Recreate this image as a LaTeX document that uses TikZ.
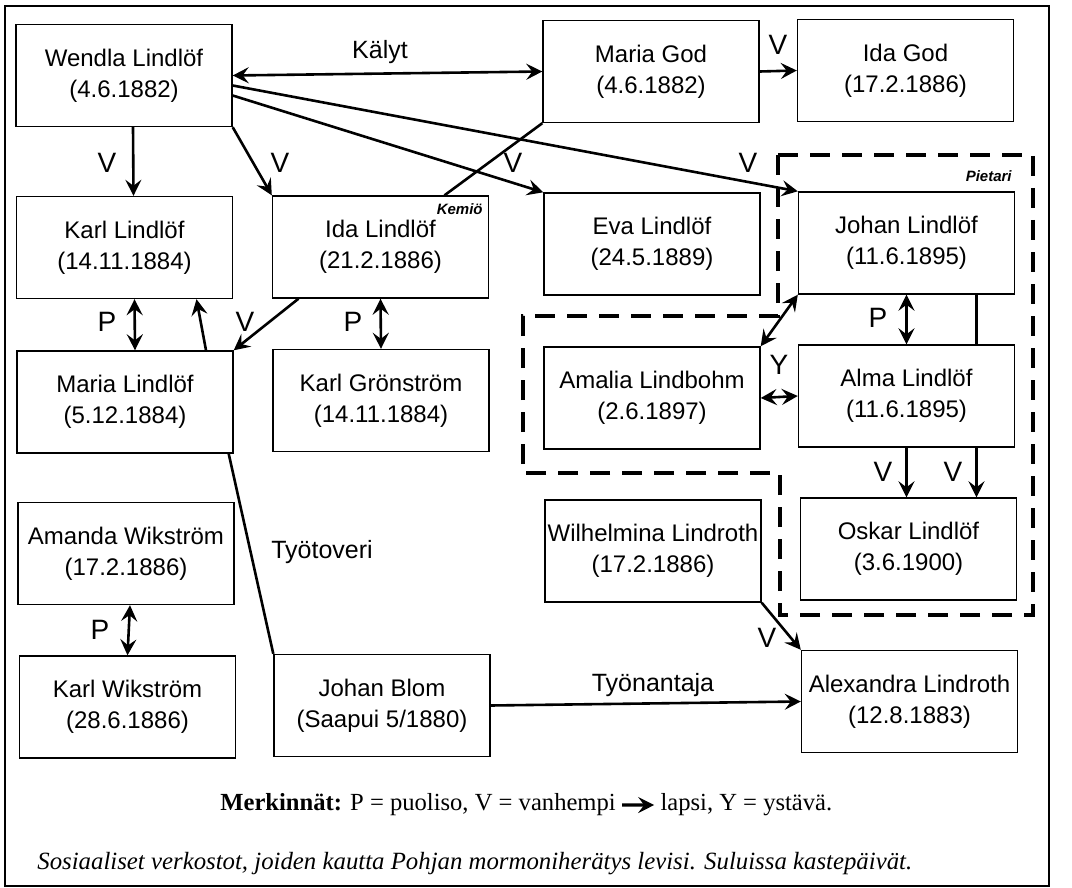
\documentclass[tikz,border=0pt]{standalone}
\usepackage{fontspec}
\setmainfont{Liberation Sans}
\newfontfamily\notefont{Liberation Serif}
\usetikzlibrary{arrows.meta}

\begin{document}
\begin{tikzpicture}[x=0.5pt,y=-0.5pt,>={Stealth[length=8pt,width=8pt,inset=3pt]}]
\tikzstyle{person}=[draw,line width=0.7pt,minimum width=108pt,minimum height=51pt,inner sep=0pt,align=center,font=\fontsize{12}{15.5}\selectfont]
\tikzstyle{arr}=[line width=1.3pt,->]
\tikzstyle{pair}=[line width=1.3pt,<->]
\tikzstyle{tie}=[line width=1.3pt]
\tikzstyle{rel}=[font=\fontsize{14}{14}\selectfont,inner sep=0pt]
\tikzstyle{lab}=[font=\fontsize{12.5}{12.5}\selectfont,inner sep=0pt]
\tikzstyle{place}=[font=\fontsize{7.5}{7.5}\selectfont\bfseries\itshape,inner sep=0pt,anchor=east]
\useasboundingbox (0,0) rectangle (1072,888);
\draw[line width=0.7pt] (5,6) rectangle (1049,886);
\draw[line width=2.4pt,dash pattern=on 10pt off 6pt] (778,155) -- (1033,155) -- (1033,615) -- (780,615) -- (780,473) -- (523,473) -- (523,316) -- (778,316) -- cycle;

\node[person] (wendla) at (124,75.5) {Wendla Lindlöf\\(4.6.1882)};
\node[person] (mariagod) at (651,71.5) {Maria God\\(4.6.1882)};
\node[person] (idagod) at (905.5,70.5) {Ida God\\(17.2.1886)};
\node[person] (karl) at (124.5,247.5) {Karl Lindlöf\\(14.11.1884)};
\node[person] (ida) at (380.5,247) {Ida Lindlöf\\(21.2.1886)};
\node[person] (eva) at (652,244) {Eva Lindlöf\\(24.5.1889)};
\node[person] (johan) at (906.5,243) {Johan Lindlöf\\(11.6.1895)};
\node[person] (marial) at (125,402) {Maria Lindlöf\\(5.12.1884)};
\node[person] (gronstrom) at (381,400.5) {Karl Grönström\\(14.11.1884)};
\node[person] (amalia) at (652,398) {Amalia Lindbohm\\(2.6.1897)};
\node[person] (alma) at (906.5,396) {Alma Lindlöf\\(11.6.1895)};
\node[person] (amanda) at (126,553.5) {Amanda Wikström\\(17.2.1886)};
\node[person] (wilhelmina) at (653,551) {Wilhelmina Lindroth\\(17.2.1886)};
\node[person] (oskar) at (908.5,549) {Oskar Lindlöf\\(3.6.1900)};
\node[person] (karlw) at (127.5,707) {Karl Wikström\\(28.6.1886)};
\node[person] (blom) at (382,705.5) {Johan Blom\\(Saapui 5/1880)};
\node[person] (alexandra) at (909.5,701.5) {Alexandra Lindroth\\(12.8.1883)};

\node[place] (kemio) at (483,209) {Kemiö};
\node[place] (pietari) at (1012,176) {Pietari};

\draw[pair] (wendla.east) -- (mariagod.west);
\node[lab] (kalyt) at (380,52) {Kälyt};
\draw[arr] (mariagod.east) -- (idagod.west);
\node[rel] (vidagod) at (778,45) {V};
\draw[arr] ([xshift=4.5pt]wendla.south) -- ([xshift=4.5pt]karl.north);
\node[rel] (vkarl) at (107,163) {V};
\draw[arr] (wendla.south east) -- (ida.north west);
\node[rel] (vida) at (280,163) {V};
\draw[arr] ([yshift=-10pt]wendla.east) -- (eva.north west);
\node[rel] (veva) at (513,163) {V};
\draw[arr] ([yshift=-5pt]wendla.east) -- (johan.north west);
\node[rel] (vjohan) at (748,163) {V};
\draw[tie] (mariagod.south west) -- ([xshift=32pt]ida.north);

\draw[pair] ([xshift=5pt]karl.south) -- ([xshift=5pt]marial.north);
\node[rel] (pkarl) at (107,322) {P};
\draw[arr] ([xshift=40.5pt]marial.north) -- ([xshift=36pt]karl.south);
\draw[arr] ([xshift=-41pt]ida.south) -- (marial.north east);
\node[rel] (vmarial) at (245,322) {V};
\draw[pair] (ida.south) -- (gronstrom.north);
\node[rel] (pida) at (353,322) {P};

\draw[pair] (johan.south) -- (alma.north);
\node[rel] (pjohan) at (878,318) {P};
\draw[tie] ([xshift=35pt]johan.south) -- ([xshift=35pt]alma.north);
\draw[pair] (johan.south west) -- (amalia.north east);
\draw[pair] (amalia.east) -- (alma.west);
\node[rel] (yalma) at (779,365) {Y};
\draw[arr] (alma.south) -- ([xshift=-1pt]oskar.north);
\node[rel] (voskar) at (883,472) {V};
\draw[arr] ([xshift=35pt]alma.south) -- ([xshift=34pt]oskar.north);
\node[rel] (voskarb) at (953,472) {V};

\draw[tie] ([xshift=-2.5pt]marial.south east) -- (blom.north west);
\node[lab] (tyotoveri) at (322,552) {Työtoveri};
\draw[pair] ([xshift=2pt]amanda.south) -- (karlw.north);
\node[rel] (pamanda) at (100,630) {P};
\draw[arr] (blom.east) -- (alexandra.west);
\node[lab] (tyonantaja) at (653,685) {Työnantaja};
\draw[arr] (wilhelmina.south east) -- (alexandra.north west);
\node[rel] (valexandra) at (767,638) {V};

\node[anchor=west,inner sep=1pt,font=\notefont\fontsize{12.3}{12.3}\selectfont] (legA) at (218,805) {\textbf{Merkinnät:} P = puoliso, V = vanhempi};
\node[anchor=base west,inner sep=1pt,font=\notefont\fontsize{12.3}{12.3}\selectfont] (legB) at ([xshift=20pt]legA.base east) {lapsi, Y = ystävä.};
\draw[line width=1.6pt,->,shorten <=2pt,shorten >=2pt] (legA.east) -- (legB.west);
\node[anchor=west,inner sep=0pt,font=\notefont\itshape\fontsize{12.4}{12.4}\selectfont] (caption) at (37,864) {Sosiaaliset verkostot, joiden kautta Pohjan mormoniherätys levisi. Suluissa kastepäivät.};
\end{tikzpicture}
\end{document}
